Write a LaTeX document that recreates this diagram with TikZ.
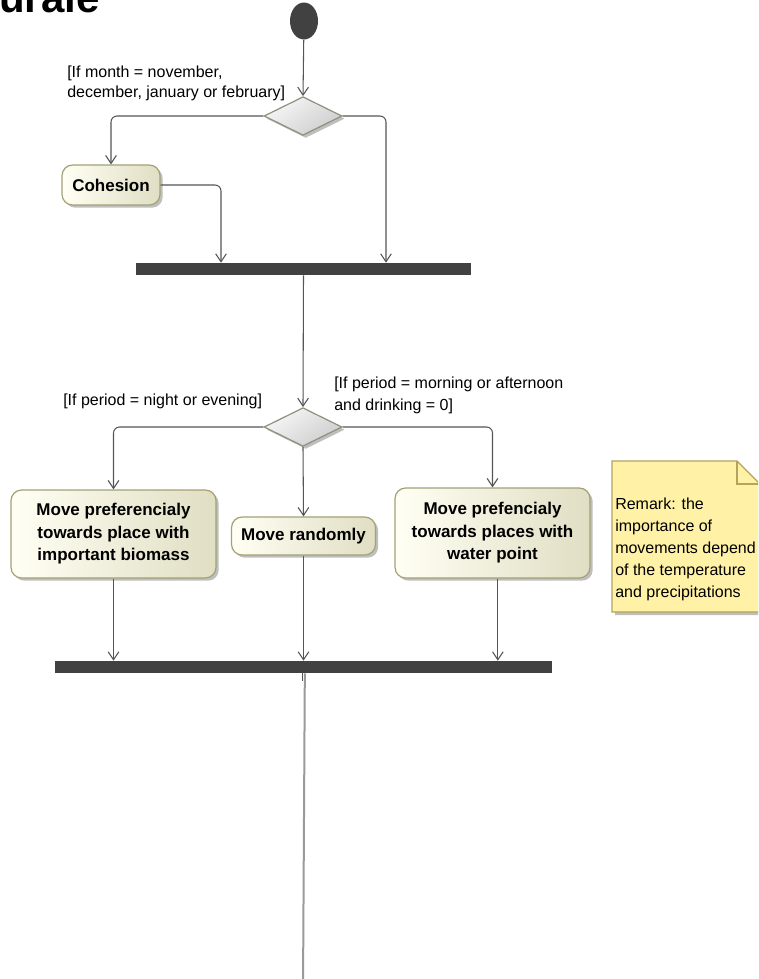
\documentclass[tikz,border=0pt]{standalone}
\usepackage{fontspec}
\setmainfont{Liberation Sans}
\usetikzlibrary{shapes.geometric,arrows.meta,shadows}

\definecolor{linecol}{HTML}{555555}
\definecolor{barcol}{HTML}{414141}
\definecolor{actline}{HTML}{A3A175}
\definecolor{actlight}{HTML}{FFFFF4}
\definecolor{actdark}{HTML}{E0DEC3}
\definecolor{decline}{HTML}{8F8F80}
\definecolor{declight}{HTML}{F7F7F7}
\definecolor{decdark}{HTML}{CDCDCD}
\definecolor{notefill}{HTML}{FFF1A6}
\definecolor{noteline}{HTML}{B3A35E}
\definecolor{tailcol}{HTML}{9A9A9A}

\tikzset{
  flow/.style={draw=linecol, line width=0.8pt, rounded corners=4.5pt,
    -{Straight Barb[length=6pt,width=8pt,line width=0.8pt]}},
  plainflow/.style={draw=linecol, line width=0.8pt},
  softshadow/.style={drop shadow={shadow xshift=2pt, shadow yshift=-2pt,
    fill=black, opacity=0.25}},
  action/.style={draw=actline, line width=0.9pt, rounded corners=8pt,
    left color=actlight, right color=actdark, softshadow,
    font=\bfseries\fontsize{12.75}{16.9}\selectfont, align=center, inner sep=0pt},
  decision/.style={diamond, aspect=2, draw=decline, line width=0.9pt,
    top color=declight, bottom color=decdark, shading angle=35, softshadow,
    minimum width=58.5pt, minimum height=29pt, inner sep=0pt},
  syncbar/.style={rectangle, fill=barcol, inner sep=0pt, minimum height=9pt},
  guard/.style={font=\fontsize{12}{15}\selectfont, align=left, inner sep=0pt,
    anchor=north west},
  initial/.style={ellipse, fill=barcol, inner sep=0pt,
    minimum width=21pt, minimum height=27.75pt}
}

\begin{document}
\begin{tikzpicture}[x=0.75pt, y=-0.75pt]
\useasboundingbox (0,0) rectangle (758,979);
\clip (0,0) rectangle (758,979);

% heading, cut by the top edge
\node[anchor=base west, inner sep=0pt, font=\bfseries\fontsize{31.5}{38}\selectfont]
  (heading) at (-1,12) {urale};

% activity nodes
\node[initial] (start) at (304,21) {};
\node[decision] (d1) at (303,116) {};
\node[action, minimum width=73.5pt, minimum height=30pt] (cohesion) at (111,185) {Cohesion};
\node[syncbar, minimum width=251.25pt] (bar1) at (303.5,269) {};
\node[decision] (d2) at (303,427) {};
\node[action, minimum width=153.75pt, minimum height=66pt] (biomass) at (113.5,534)
  {Move preferencialy\\towards place with\\important biomass};
\node[action, minimum width=108pt, minimum height=28.5pt] (random) at (303.5,536) {Move randomly};
\node[action, minimum width=146.25pt, minimum height=67.5pt] (water) at (492.5,533)
  {Move prefencialy\\towards places with\\water point};
\node[syncbar, minimum width=372.75pt] (bar2) at (303.5,667) {};
\coordinate (flowend) at (303,990);

% guards
\node[guard] (g1) at (67,66) {[If month = november,\\december, january or february]};
\node[guard] (g2) at (63,394) {[If period = night or evening]};
\node[guard, font=\fontsize{12}{16.5}\selectfont] (g3) at (334,377)
  {[If period = morning or afternoon\\and drinking = 0]};

% control flows
\draw[flow] (start) -- (d1.north);
\draw[flow] (d1.west) -| (cohesion.north);
\draw[flow] (d1.east) -| ([xshift=61.875pt]bar1.north);
\draw[flow] (cohesion.east) -| ([xshift=-61.875pt]bar1.north);
\draw[flow] (bar1.south) -- (d2.north);
\draw[flow] (d2.west) -| (biomass.north);
\draw[flow] (d2.south) -- (random.north);
\draw[flow] (d2.east) -| (water.north);
\draw[flow] (biomass.south) -- (biomass.south |- bar2.north);
\draw[flow] (random.south) -- (random.south |- bar2.north);
\draw[flow] ([xshift=4pt]water.south) -- ([xshift=4pt]water.south |- bar2.north);
\draw[draw=tailcol, line width=1.5pt] ([xshift=1pt]bar2.south) -- (flowend);
\draw[plainflow] ([xshift=-1pt]bar2.south) -- ++(0,8);

% comment note with folded corner
\fill[black, opacity=0.25] (615,464) -- (740,464) -- (763,487) -- (763,615) -- (615,615) -- cycle;
\draw[draw=noteline, fill=notefill, line width=0.9pt]
  (612,461) -- (737,461) -- (760,484) -- (760,612) -- (612,612) -- cycle;
\draw[draw=noteline, line width=0.9pt] (737,461) -- (737,484) -- (760,484);
\node[guard, font=\fontsize{12}{16.5}\selectfont] (remark) at (615,498)
  {Remark: the\\importance of\\movements depend\\of the temperature\\and precipitations};
\end{tikzpicture}
\end{document}
